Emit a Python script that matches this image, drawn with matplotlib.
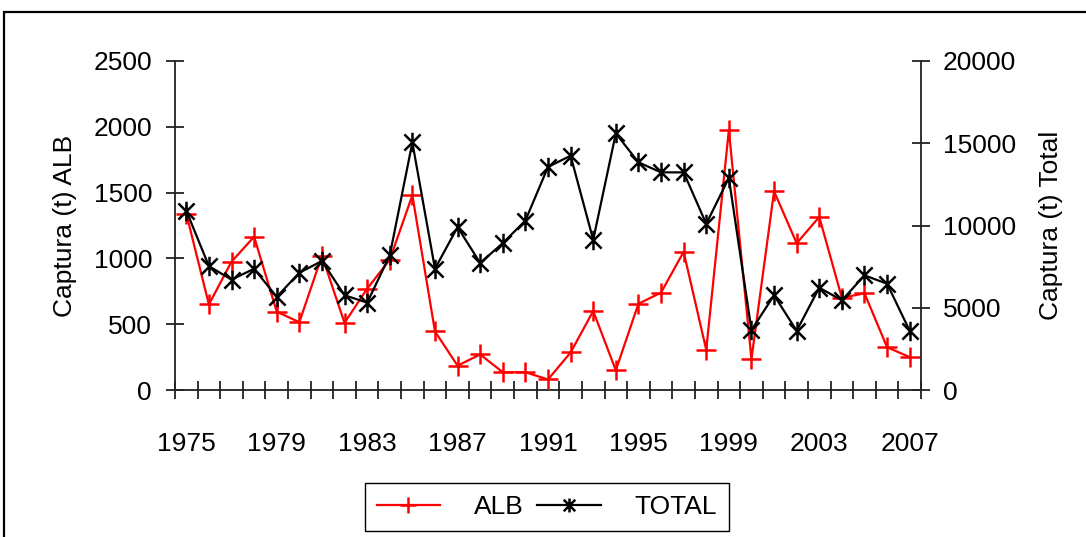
import numpy as np
import matplotlib
matplotlib.use("Agg")
import matplotlib.pyplot as plt
from matplotlib.path import Path
from matplotlib.lines import Line2D
from matplotlib.patches import Rectangle

plt.rcParams['font.family'] = ['Liberation Sans', 'DejaVu Sans']

# data
years = list(range(1975, 2008))
alb = [1340, 650, 975, 1165, 595, 515, 1020, 510, 770, 990,
       1480, 445, 185, 270, 135, 135, 80, 285, 600, 150,
       655, 740, 1050, 305, 1975, 235, 1510, 1115, 1315, 700,
       735, 325, 250]
total = [10900, 7530, 6710, 7370, 5660, 7130, 7840, 5760, 5310, 8180,
         15050, 7370, 9900, 7720, 8930, 10300, 13560, 14240, 9130, 15600,
         13840, 13230, 13230, 10100, 12890, 3640, 5760, 3600, 6220, 5450,
         6970, 6460, 3600]
year_labels = [str(y) for y in years[::4]]

# excel style star marker: X with a vertical bar
star = Path([(-1, -1), (1, 1), (-1, 1), (1, -1), (0, -1.2), (0, 1.2)],
            [Path.MOVETO, Path.LINETO, Path.MOVETO, Path.LINETO, Path.MOVETO, Path.LINETO])

W, H = 1086, 537
fig = plt.figure(figsize=(W / 100, H / 100), dpi=100)
ax = fig.add_axes([175 / W, 1 - 390 / H, (921 - 175) / W, (390 - 61) / H])
ax2 = ax.twinx()

x = np.arange(len(years))
ax.plot(x, alb, color='red', lw=1.6, marker='+', ms=15, mew=1.8, zorder=3)
ax2.plot(x, total, color='black', lw=1.6, marker=star, ms=14, mew=1.8, zorder=3)

fs = 19
ax.set_xlim(-0.5, len(years) - 0.5)
ax.set_ylim(0, 2500)
ax2.set_ylim(0, 20000)
ax.set_yticks(np.arange(0, 2501, 500))
ax2.set_yticks(np.arange(0, 20001, 5000))
ax.set_xticks(x[::4])
ax.set_xticklabels(year_labels)
ax.set_xticks(np.arange(-0.5, len(years)), minor=True)

for a in (ax, ax2):
    a.spines['top'].set_visible(False)
    for s in a.spines.values():
        s.set_linewidth(1.3)
        s.set_color('#222222')
    a.patch.set_visible(False)

ax2.spines['left'].set_visible(False)
ax2.spines['bottom'].set_visible(False)
ax.spines['right'].set_visible(False)

ax.tick_params(axis='x', which='major', length=0, pad=30, labelsize=fs)
ax.tick_params(axis='x', which='minor', direction='inout', length=13, width=1.3, color='#222222')
ax.tick_params(axis='y', direction='inout', length=13, width=1.3, color='#222222', pad=10, labelsize=fs)
ax2.tick_params(axis='y', direction='inout', length=13, width=1.3, color='#222222', pad=9, labelsize=fs)

ax.set_ylabel('Captura (t) ALB', fontsize=fs, labelpad=12)
ax2.set_ylabel('Captura (t) Total', fontsize=fs, labelpad=17)

h1 = Line2D([], [], color='red', lw=1.6, marker='+', ms=11, mew=1.8)
h2 = Line2D([], [], color='black', lw=1.6, marker=star, ms=10, mew=1.8)
leg = fig.legend([h1, h2], ['ALB', 'TOTAL'], loc='center', ncol=2,
                 bbox_to_anchor=(547 / W, 1 - 507 / H), fontsize=fs,
                 handlelength=2.4, handletextpad=1.3, columnspacing=0.5,
                 borderpad=0.45, borderaxespad=0, fancybox=False, framealpha=1)
leg.get_frame().set_edgecolor('black')
leg.get_frame().set_linewidth(1.0)

# outer chart border
fig.patches.append(Rectangle((4 / W, -0.1), 1.2, 1 - 12 / H + 0.1, transform=fig.transFigure,
                             fill=False, edgecolor='black', lw=1.6))

fig.savefig('out.png', dpi=100)
